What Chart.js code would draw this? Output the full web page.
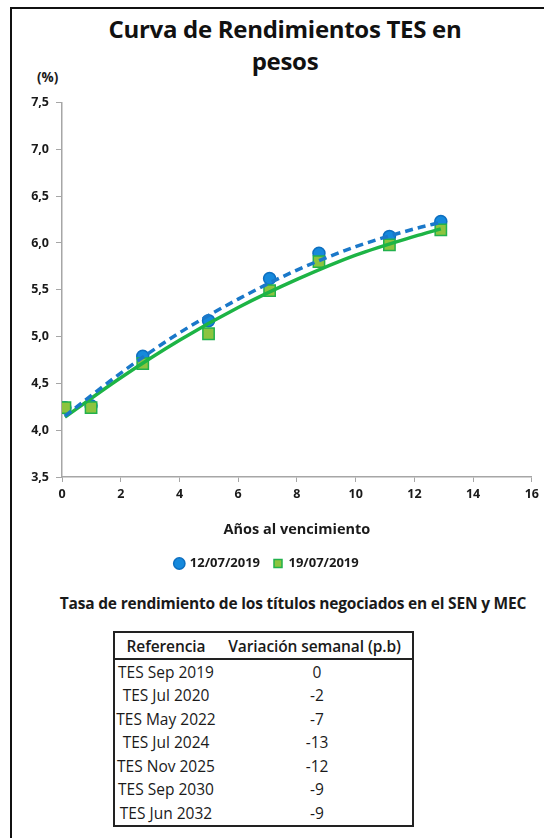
<!DOCTYPE html>
<html>
<head>
<meta charset="utf-8">
<script src="https://cdn.jsdelivr.net/npm/chart.js@4.4.0/dist/chart.umd.min.js"></script>
<style>
  body { margin: 0; background: #fff; font-family: "Open Sans", Lato, sans-serif; color: #1a1a1a; }
  #page { position: relative; width: 544px; height: 838px; overflow: hidden; }
  #frame { position: absolute; left: 10px; top: 7px; width: 540px; height: 840px; border-left: 2px solid #111; border-top: 2px solid #111; }
  #title { position: absolute; left: 60px; width: 450px; top: 13px; text-align: center; font-weight: 700; font-size: 24px; line-height: 32px; color: #111; letter-spacing: -0.3px; }
  #unit { position: absolute; left: 37px; top: 68px; font-weight: 700; font-size: 13.5px; }
  #wrap { position: absolute; left: 0; top: 88px; width: 544px; height: 498px; }
  #sub { position: absolute; left: 0; width: 586px; top: 592px; text-align: center; font-weight: 700; font-size: 15.5px; letter-spacing: -0.2px; }
  table { position: absolute; left: 113px; top: 631px; width: 301px; border-collapse: collapse; border: 2px solid #222; font-size: 15.5px; }
  th { font-weight: 600; font-size: 15.5px; height: 23px; border-bottom: 2px solid #222; letter-spacing: -0.1px; }
  td { height: 23.5px; padding: 0; text-align: center; }
  td.v { padding-left: 5px; }
</style>
</head>
<body>
<div id="page">
  <div id="frame"></div>
  <div id="title">Curva de Rendimientos TES en<br>pesos</div>
  <div id="unit">(%)</div>
  <div id="wrap"><canvas id="c"></canvas></div>
  <div id="sub">Tasa de rendimiento de los títulos negociados en el SEN y MEC</div>
  <table id="tbl">
    <thead><tr><th style="width:100px">Referencia</th><th>Variación semanal (p.b)</th></tr></thead>
    <tbody></tbody>
  </table>
</div>
<script>
// years to maturity for each bond
const years = [0.1, 0.99, 2.75, 4.99, 7.07, 8.75, 11.15, 12.9];
const yield1207 = [4.24, 4.26, 4.79, 5.17, 5.62, 5.89, 6.07, 6.23];
const yield1907 = [4.24, 4.24, 4.71, 5.03, 5.49, 5.80, 5.98, 6.14];

// trend curves
const trendX = [0.1, 2, 4, 6, 8, 10, 12, 12.9];
const trend1207 = [4.15, 4.61, 5.04, 5.40, 5.71, 5.96, 6.15, 6.22];
const trend1907 = [4.14, 4.56, 4.96, 5.31, 5.61, 5.87, 6.07, 6.15];

const yTicks = [3.5, 4.0, 4.5, 5.0, 5.5, 6.0, 6.5, 7.0, 7.5];
const xTicks = [0, 2, 4, 6, 8, 10, 12, 14, 16];

const refs = ["TES Sep 2019", "TES Jul 2020", "TES May 2022", "TES Jul 2024", "TES Nov 2025", "TES Sep 2030", "TES Jun 2032"];
const weekChange = [0, -2, -7, -13, -12, -9, -9];

const tbody = document.querySelector("#tbl tbody");
tbody.innerHTML = refs.map((r, i) => `<tr><td>${r}</td><td class="v">${weekChange[i]}</td></tr>`).join("");

const pts = (xs, ys) => xs.map((x, i) => ({ x, y: ys[i] }));
const FONT = "'Open Sans', Lato, sans-serif";

new Chart(document.getElementById("c").getContext("2d"), {
  type: "scatter",
  data: {
    datasets: [
      { label: "trend1207", type: "line", data: pts(trendX, trend1207), borderColor: "#1a78c9", borderWidth: 3.5,
        borderDash: [8, 5], pointRadius: 0, tension: 0.4, cubicInterpolationMode: "monotone", order: 0 },
      { label: "trend1907", type: "line", data: pts(trendX, trend1907), borderColor: "#1db445", borderWidth: 3.5,
        pointRadius: 0, tension: 0.4, cubicInterpolationMode: "monotone", order: 1 },
      { label: "12/07/2019", data: pts(years, yield1207), pointStyle: "circle", pointRadius: 6,
        backgroundColor: "#1589dc", borderColor: "#0d6fc0", borderWidth: 1.5, order: 3 },
      { label: "19/07/2019", data: pts(years, yield1907), pointStyle: "rect", pointRadius: 8,
        backgroundColor: "#8cc43f", borderColor: "#22b14c", borderWidth: 1.5, order: 2 },
    ],
  },
  options: {
    responsive: true,
    maintainAspectRatio: false,
    animation: false,
    layout: { padding: { top: 13, right: 10, bottom: 6, left: 0 } },
    scales: {
      x: {
        type: "linear", min: 0, max: 16,
        afterBuildTicks: (ax) => { ax.ticks = xTicks.map(v => ({ value: v })); },
        afterFit: (ax) => { ax.height = 66; },
        ticks: { color: "#1a1a1a", font: { family: FONT, weight: "bold", size: 12.5 }, padding: 5, maxRotation: 0 },
        grid: { drawOnChartArea: false, tickLength: 5, color: "#a6a6a6" },
        border: { color: "#a6a6a6", width: 1.5 },
        title: { display: true, text: "Años al vencimiento", color: "#1a1a1a",
          font: { family: FONT, weight: "bold", size: 14.5 }, padding: { top: 0, bottom: 4 } },
      },
      y: {
        min: 3.5, max: 7.5,
        afterBuildTicks: (ax) => { ax.ticks = yTicks.map(v => ({ value: v })); },
        afterFit: (ax) => { ax.width = 62; },
        ticks: { color: "#1a1a1a", font: { family: FONT, weight: "bold", size: 12.5 }, padding: 7,
          callback: (v) => v.toFixed(1).replace(".", ",") },
        grid: { drawOnChartArea: false, tickLength: 6, color: "#a6a6a6" },
        border: { color: "#a6a6a6", width: 1.5 },
      },
    },
    plugins: {
      tooltip: { enabled: false },
      legend: {
        position: "bottom",
        labels: {
          filter: (item) => !item.text.startsWith("trend"),
          sort: (a, b) => a.datasetIndex - b.datasetIndex,
          usePointStyle: true, boxWidth: 8, boxHeight: 8, padding: 14,
          color: "#1a1a1a", font: { family: FONT, weight: "bold", size: 13 },
        },
      },
    },
  },
});
</script>
</body>
</html>
